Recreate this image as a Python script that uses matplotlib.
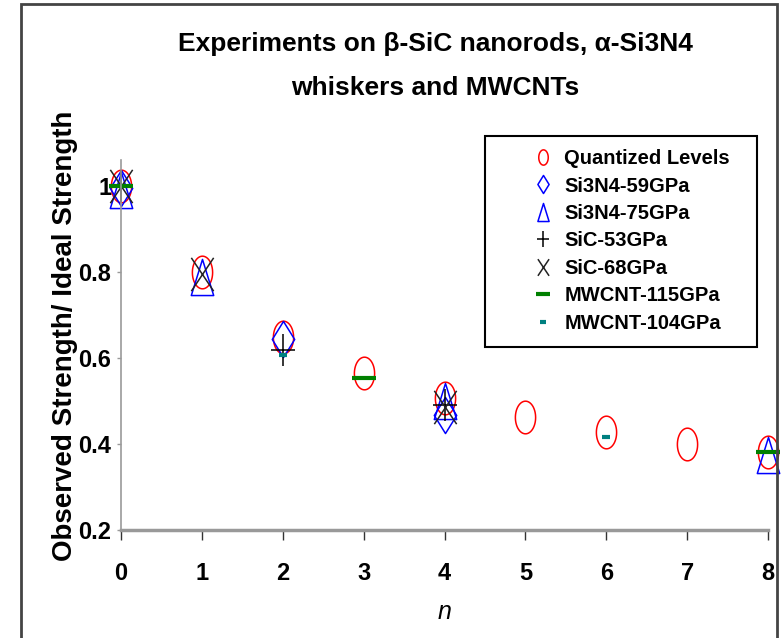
import numpy as np
import matplotlib
matplotlib.use("Agg")
import matplotlib.pyplot as plt
from matplotlib.path import Path
from matplotlib.lines import Line2D
from matplotlib.patches import Rectangle

# data
n = [0, 1, 2, 3, 4, 5, 6, 7, 8]
quantized = [1.0, 0.80, 0.648, 0.565, 0.506, 0.463, 0.428, 0.401, 0.381]

si3n4_59_n = [0, 2, 4]
si3n4_59 = [0.995, 0.643, 0.468]

si3n4_75_n = [0, 1, 4, 8]
si3n4_75 = [0.99, 0.787, 0.50, 0.374]

sic_53_n = [0, 2, 4]
sic_53 = [1.0, 0.619, 0.49]

sic_68_n = [0, 1, 4]
sic_68 = [1.0, 0.795, 0.487]

mwcnt_115_n = [0, 3, 8]
mwcnt_115 = [1.0, 0.553, 0.381]

mwcnt_104_n = [2, 6]
mwcnt_104 = [0.607, 0.416]

xticks = [0, 1, 2, 3, 4, 5, 6, 7, 8]
yticks = [0.2, 0.4, 0.6, 0.8, 1.0]
ytick_labels = ["0.2", "0.4", "0.6", "0.8", "1"]

sans = ["Liberation Sans", "DejaVu Sans"]

# vertically stretched marker shapes, like the source picture
t = np.linspace(0, 2 * np.pi, 64)
ellipse = Path(np.column_stack([0.62 * np.cos(t), np.sin(t)]), closed=True)
diamond = Path([(0, 1), (0.62, 0), (0, -1), (-0.62, 0), (0, 1)], closed=True)
triangle = Path([(0, 1), (0.62, -1), (-0.62, -1), (0, 1)], closed=True)
cross = Path([(-0.67, -1), (0.67, 1), (-0.67, 1), (0.67, -1)],
             [Path.MOVETO, Path.LINETO, Path.MOVETO, Path.LINETO])
plus = Path([(0, -1), (0, 1), (-0.75, 0), (0.75, 0)],
            [Path.MOVETO, Path.LINETO, Path.MOVETO, Path.LINETO])

fig = plt.figure(figsize=(7.82, 6.38), dpi=100)
ax = fig.add_axes([121 / 782, 108 / 638, 647 / 782, 370 / 638])

kw = dict(linestyle="none", clip_on=False, markerfacecolor="none")
ax.plot(n, quantized, marker=ellipse, ms=23.5, mec="red", mew=1.1, **kw)
ax.plot(si3n4_59_n, si3n4_59, marker=diamond, ms=26, mec="blue", mew=1.1, **kw)
ax.plot(si3n4_75_n, si3n4_75, marker=triangle, ms=26, mec="blue", mew=1.1, **kw)
ax.plot(sic_53_n, sic_53, marker=plus, ms=23, mec="black", mew=1.1, **kw)
ax.plot(sic_68_n, sic_68, marker=cross, ms=24, mec="#222222", mew=1.1, **kw)
ax.plot(mwcnt_115_n, mwcnt_115, marker="_", ms=17, mec="green", mew=3, **kw)
ax.plot(mwcnt_104_n, mwcnt_104, marker="_", ms=6, mec="teal", mew=3, **kw)

ax.set_xlim(0, 8)
ax.set_ylim(0.2, 1.06)
ax.set_xticks(xticks)
ax.set_xticklabels([str(v) for v in xticks])
ax.set_yticks(yticks)
ax.set_yticklabels(ytick_labels)

for s in ["top", "right"]:
    ax.spines[s].set_visible(False)
ax.spines["left"].set_color("#999999")
ax.spines["left"].set_linewidth(1.2)
ax.spines["bottom"].set_color("#999999")
ax.spines["bottom"].set_linewidth(2.5)

ax.tick_params(axis="x", direction="out", length=7, width=1, color="#333333", pad=16)
ax.tick_params(axis="y", direction="out", length=3, width=1, color="#999999", pad=4)
for lab in ax.get_xticklabels() + ax.get_yticklabels():
    lab.set_family(sans)
    lab.set_fontweight("bold")
    lab.set_fontsize(17)

ax.set_xlabel("n", fontstyle="italic", fontsize=18, family=sans, labelpad=11)

fig.text(65 / 782, 0.473, "Observed Strength/ Ideal Strength", rotation=90,
         ha="center", va="center", fontsize=20, fontweight="bold", family=sans)

fig.text(435 / 782, 1 - 66 / 638, "Experiments on \u03b2-SiC nanorods, \u03b1-Si3N4\nwhiskers and MWCNTs",
         ha="center", va="center", fontsize=19, fontweight="bold", family=sans,
         linespacing=2.05)

# legend
handles = [
    Line2D([], [], ls="none", marker=ellipse, ms=11, mfc="none", mec="red", mew=1.1),
    Line2D([], [], ls="none", marker=diamond, ms=13, mfc="none", mec="blue", mew=1.1),
    Line2D([], [], ls="none", marker=triangle, ms=13, mfc="none", mec="blue", mew=1.1),
    Line2D([], [], ls="none", marker=plus, ms=12, mfc="none", mec="black", mew=1.1),
    Line2D([], [], ls="none", marker=cross, ms=12, mfc="none", mec="#222222", mew=1.1),
    Line2D([], [], ls="none", marker="_", ms=10, mec="green", mew=3),
    Line2D([], [], ls="none", marker="_", ms=4, mec="teal", mew=3),
]
labels = ["Quantized Levels", "Si3N4-59GPa", "Si3N4-75GPa", "SiC-53GPa",
          "SiC-68GPa", "MWCNT-115GPa", "MWCNT-104GPa"]
leg = fig.legend(handles, labels, loc="upper left",
                 bbox_to_anchor=(521 / 782, 1 - 139 / 638),
                 frameon=False, handlelength=1.2, handletextpad=0.45,
                 labelspacing=0.42, borderpad=0,
                 prop=dict(family=sans, weight="bold", size=14.5))

fig.patches.append(Rectangle((485 / 782, 1 - 347 / 638), 272 / 782, 211 / 638,
                             transform=fig.transFigure, fill=False,
                             edgecolor="black", linewidth=1.5))
# outer frame of the picture
fig.patches.append(Rectangle((21 / 782, -0.01), 756 / 782, 1.01 - 4 / 638,
                             transform=fig.transFigure, fill=False,
                             edgecolor="#444444", linewidth=2))

fig.savefig("out.png", dpi=100)
